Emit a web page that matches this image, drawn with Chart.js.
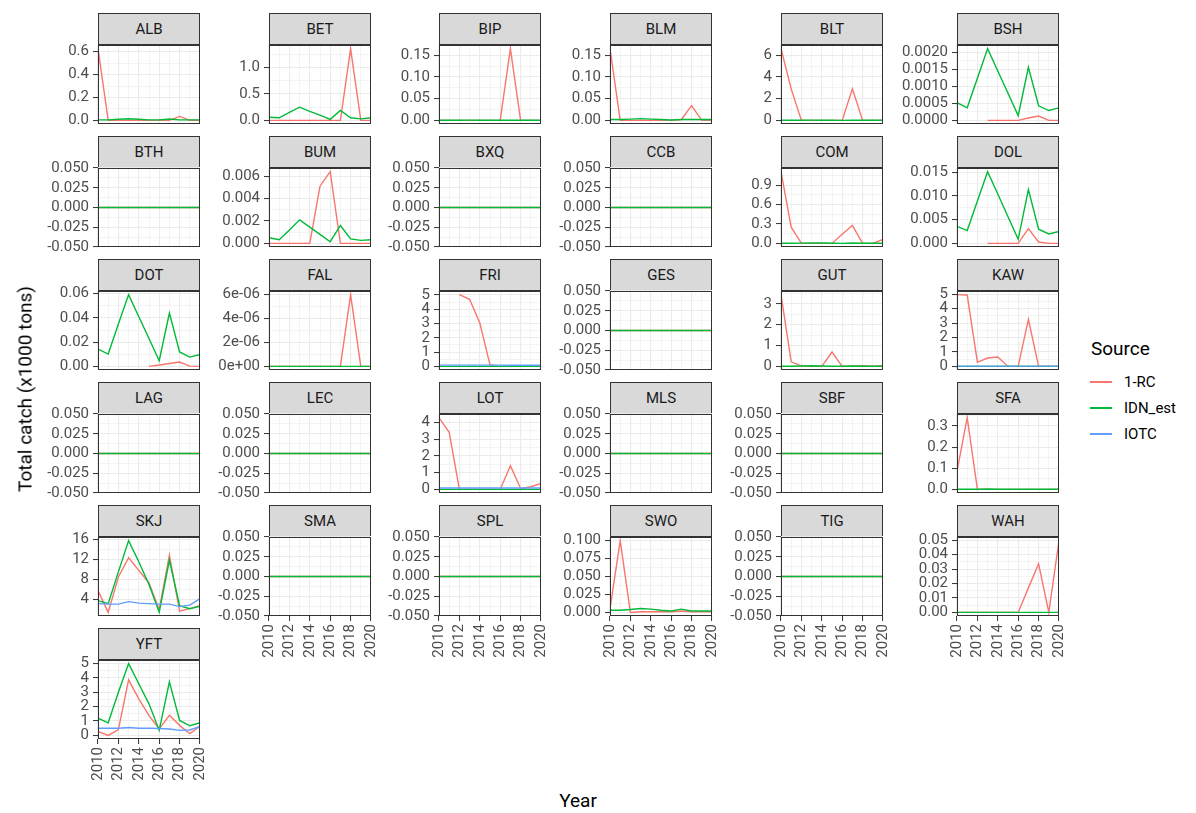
<!DOCTYPE html>
<html>
<head>
<meta charset="utf-8">
<title>Total catch by species</title>
<script src="https://cdn.jsdelivr.net/npm/chart.js@4.4.1/dist/chart.umd.min.js"></script>
<style>
  body { margin: 0; background: #ffffff; }
  #fig { position: relative; width: 1196px; height: 813px; overflow: hidden;
         font-family: Roboto, "DejaVu Sans", sans-serif; background: #ffffff; }
  .strip { position: absolute; box-sizing: border-box; height: 32px; background: #D9D9D9;
           border: 1px solid #333333; color: #1A1A1A; font-size: 15px; line-height: 30px;
           text-align: center; }
  canvas { position: absolute; }
  .title { position: absolute; color: #000; font-size: 19px; white-space: nowrap; }
  .legend-title { position: absolute; left: 1091px; top: 337px; font-size: 19px; color: #000; }
  .key { position: absolute; left: 1090px; width: 22px; height: 1.4px; }
  .key-label { position: absolute; left: 1124px; font-size: 15px; color: #000; line-height: 18px; }
</style>
</head>
<body>
<div id="fig"></div>
<script>
// Years on the x axis
const years = [2010, 2011, 2012, 2013, 2014, 2015, 2016, 2017, 2018, 2019, 2020];

// Species codes, one facet each
const species = ['ALB','BET','BIP','BLM','BLT','BSH','BTH','BUM','BXQ','CCB','COM','DOL',
                 'DOT','FAL','FRI','GES','GUT','KAW','LAG','LEC','LOT','MLS','SBF','SFA',
                 'SKJ','SMA','SPL','SWO','TIG','WAH','YFT'];

const seriesNames  = ['1-RC', 'IDN_est', 'IOTC'];
const seriesColors = ['#F8766D', '#00BA38', '#619CFF'];

// 1-RC catch (x1000 tons), per species, 2010-2020
const rc = [
  [0.627, 0, 0, 0, 0, 0, 0, 0, 0.035, 0, 0],                        // ALB
  [0, 0, 0, 0, 0, 0, 0, 0, 1.357, 0, 0],                            // BET
  [0, 0, 0, 0, 0, 0, 0, 0.165, 0, 0, 0],                            // BIP
  [0.165, 0, 0, 0, 0, 0, 0, 0.002, 0.034, 0, 0],                    // BLM
  [6.6, 2.9, 0, 0, 0, 0, 0, 2.9, 0, 0, 0],                          // BLT
  [null, null, null, 0, 0, 0, 0, 0.00007, 0.00013, 0, 0],           // BSH
  [0, 0, 0, 0, 0, 0, 0, 0, 0, 0, 0],                                // BTH
  [0, 0, 0, 0, 0, 0.0051, 0.0064, 0, 0, 0, 0],                      // BUM
  [0, 0, 0, 0, 0, 0, 0, 0, 0, 0, 0],                                // BXQ
  [0, 0, 0, 0, 0, 0, 0, 0, 0, 0, 0],                                // CCB
  [1.11, 0.25, 0, 0, 0, 0, 0.14, 0.28, 0, 0, 0.06],                 // COM
  [null, null, null, 0, 0, 0, 0, 0.0031, 0.0003, 0, 0],             // DOL
  [null, null, null, null, null, 0, 0.0012, 0.0024, 0.0036, 0.0002, 0], // DOT
  [0, 0, 0, 0, 0, 0, 0, 0, 0.000006, 0, 0],                         // FAL
  [null, null, 5.03, 4.7, 3.05, 0.1, 0, 0, 0, 0, 0],                // FRI
  [0, 0, 0, 0, 0, 0, 0, 0, 0, 0, 0],                                // GES
  [3.44, 0.22, 0.03, 0, 0, 0.69, 0, 0.01, 0.03, 0.01, 0.04],        // GUT
  [4.98, 4.95, 0.28, 0.58, 0.65, 0, 0, 3.27, 0, 0, 0],              // KAW
  [0, 0, 0, 0, 0, 0, 0, 0, 0, 0, 0],                                // LAG
  [0, 0, 0, 0, 0, 0, 0, 0, 0, 0, 0],                                // LEC
  [4.3, 3.42, 0, 0, 0, 0, 0, 1.42, 0.05, 0.16, 0.36],               // LOT
  [0, 0, 0, 0, 0, 0, 0, 0, 0, 0, 0],                                // MLS
  [0, 0, 0, 0, 0, 0, 0, 0, 0, 0, 0],                                // SBF
  [0.085, 0.34, 0, 0, 0, 0, 0, 0, 0, 0, 0],                         // SFA
  [5.8, 1.46, 8.5, 12.3, 9.8, 7.3, 2.0, 12.8, 1.7, 2.2, 2.8],       // SKJ
  [0, 0, 0, 0, 0, 0, 0, 0, 0, 0, 0],                                // SMA
  [0, 0, 0, 0, 0, 0, 0, 0, 0, 0, 0],                                // SPL
  [0.005, 0.0997, 0, 0.001, 0.001, 0.001, 0.001, 0.002, 0.001, 0.001, 0.001], // SWO
  [0, 0, 0, 0, 0, 0, 0, 0, 0, 0, 0],                                // TIG
  [0, 0, 0, 0, 0, 0, 0, 0.017, 0.0337, 0, 0.0498],                  // WAH
  [0.28, 0, 0.4, 3.87, 2.55, 1.38, 0.46, 1.4, 0.7, 0.12, 0.64]      // YFT
];

// IDN_est catch (x1000 tons)
const idn = [
  [0.005, 0.005, 0.01, 0.015, 0.01, 0.005, 0.005, 0.012, 0.005, 0.005, 0.005],        // ALB
  [0.06, 0.05, 0.15, 0.25, 0.17, 0.1, 0.02, 0.19, 0.05, 0.03, 0.05],                   // BET
  [0.0003, 0.0003, 0.0005, 0.0007, 0.0005, 0.0003, 0.0002, 0.0005, 0.0003, 0.0003, 0.0003], // BIP
  [0.002, 0.002, 0.003, 0.004, 0.003, 0.002, 0.001, 0.002, 0.002, 0.002, 0.002],        // BLM
  [0.01, 0.01, 0.02, 0.03, 0.02, 0.01, 0.005, 0.02, 0.01, 0.01, 0.01],                  // BLT
  [0.00052, 0.00037, 0.00124, 0.00211, 0.00145, 0.0008, 0.00014, 0.00156, 0.00043, 0.00029, 0.00037], // BSH
  [0, 0, 0, 0, 0, 0, 0, 0, 0, 0, 0],                                                    // BTH
  [0.0005, 0.00033, 0.0012, 0.0021, 0.00145, 0.0008, 0.00015, 0.0016, 0.0004, 0.00027, 0.00033], // BUM
  [0, 0, 0, 0, 0, 0, 0, 0, 0, 0, 0],                                                    // BXQ
  [0, 0, 0, 0, 0, 0, 0, 0, 0, 0, 0],                                                    // CCB
  [0.003, 0.003, 0.005, 0.008, 0.006, 0.003, 0.001, 0.006, 0.003, 0.002, 0.003],        // COM
  [0.0036, 0.0027, 0.0089, 0.0151, 0.0104, 0.0056, 0.00085, 0.0113, 0.003, 0.002, 0.0025], // DOL
  [0.0143, 0.0102, 0.035, 0.0593, 0.041, 0.023, 0.0047, 0.0441, 0.0119, 0.0077, 0.0099],   // DOT
  [0, 0, 0, 0, 0, 0, 0, 0, 0, 0, 0],                                                    // FAL
  [0, 0, 0, 0, 0, 0, 0, 0, 0, 0, 0],                                                    // FRI
  [0, 0, 0, 0, 0, 0, 0, 0, 0, 0, 0],                                                    // GES
  [0.01, 0.01, 0.02, 0.03, 0.02, 0.01, 0.005, 0.02, 0.01, 0.01, 0.01],                  // GUT
  [0, 0, 0, 0, 0, 0, 0, 0, 0, 0, 0],                                                    // KAW
  [0, 0, 0, 0, 0, 0, 0, 0, 0, 0, 0],                                                    // LAG
  [0, 0, 0, 0, 0, 0, 0, 0, 0, 0, 0],                                                    // LEC
  [0, 0, 0, 0, 0, 0, 0, 0, 0, 0, 0],                                                    // LOT
  [0, 0, 0, 0, 0, 0, 0, 0, 0, 0, 0],                                                    // MLS
  [0, 0, 0, 0, 0, 0, 0, 0, 0, 0, 0],                                                    // SBF
  [0.001, 0.001, 0.001, 0.002, 0.001, 0.001, 0.001, 0.001, 0.001, 0.001, 0.001],        // SFA
  [3.8, 3.2, 9.5, 15.7, 11.5, 7.0, 1.5, 11.8, 2.8, 2.2, 2.7],                            // SKJ
  [0, 0, 0, 0, 0, 0, 0, 0, 0, 0, 0],                                                    // SMA
  [0, 0, 0, 0, 0, 0, 0, 0, 0, 0, 0],                                                    // SPL
  [0.003, 0.003, 0.004, 0.0055, 0.0045, 0.003, 0.002, 0.0045, 0.002, 0.002, 0.002],     // SWO
  [0, 0, 0, 0, 0, 0, 0, 0, 0, 0, 0],                                                    // TIG
  [0, 0, 0, 0, 0, 0, 0, 0, 0, 0, 0],                                                    // WAH
  [1.2, 0.88, 3.0, 5.0, 3.6, 2.2, 0.35, 3.73, 1.04, 0.67, 0.88]                          // YFT
];

// IOTC catch (x1000 tons); only reported for a few species
const iotcFRI = [0.09, 0.09, 0.09, 0.09, 0.09, 0.09, 0.09, 0.08, 0.08, 0.08, 0.08];
const iotcKAW = [0.02, 0.02, 0.02, 0.02, 0.02, 0.02, 0.02, 0.02, 0.02, 0.02, 0.02];
const iotcLOT = [0.08, 0.08, 0.08, 0.08, 0.08, 0.08, 0.08, 0.08, 0.08, 0.08, 0.08];
const iotcSKJ = [3.2, 3.1, 3.1, 3.6, 3.3, 3.2, 3.1, 3.1, 2.6, 2.9, 4.2];
const iotcYFT = [0.5, 0.5, 0.5, 0.55, 0.5, 0.5, 0.48, 0.45, 0.35, 0.38, 0.62];
const iotc = { FRI: iotcFRI, KAW: iotcKAW, LOT: iotcLOT, SKJ: iotcSKJ, YFT: iotcYFT };

// y-axis tick labels for each facet
const zeroTicks = ['-0.050', '-0.025', '0.000', '0.025', '0.050'];
const yTickLabels = [
  ['0.0', '0.2', '0.4', '0.6'],                              // ALB
  ['0.0', '0.5', '1.0'],                                     // BET
  ['0.00', '0.05', '0.10', '0.15'],                          // BIP
  ['0.00', '0.05', '0.10', '0.15'],                          // BLM
  ['0', '2', '4', '6'],                                      // BLT
  ['0.0000', '0.0005', '0.0010', '0.0015', '0.0020'],        // BSH
  zeroTicks,                                                 // BTH
  ['0.000', '0.002', '0.004', '0.006'],                      // BUM
  zeroTicks,                                                 // BXQ
  zeroTicks,                                                 // CCB
  ['0.0', '0.3', '0.6', '0.9'],                              // COM
  ['0.000', '0.005', '0.010', '0.015'],                      // DOL
  ['0.00', '0.02', '0.04', '0.06'],                          // DOT
  ['0e+00', '2e-06', '4e-06', '6e-06'],                      // FAL
  ['0', '1', '2', '3', '4', '5'],                            // FRI
  zeroTicks,                                                 // GES
  ['0', '1', '2', '3'],                                      // GUT
  ['0', '1', '2', '3', '4', '5'],                            // KAW
  zeroTicks,                                                 // LAG
  zeroTicks,                                                 // LEC
  ['0', '1', '2', '3', '4'],                                 // LOT
  zeroTicks,                                                 // MLS
  zeroTicks,                                                 // SBF
  ['0.0', '0.1', '0.2', '0.3'],                              // SFA
  ['4', '8', '12', '16'],                                    // SKJ
  zeroTicks,                                                 // SMA
  zeroTicks,                                                 // SPL
  ['0.000', '0.025', '0.050', '0.075', '0.100'],             // SWO
  zeroTicks,                                                 // TIG
  ['0.00', '0.01', '0.02', '0.03', '0.04', '0.05'],          // WAH
  ['0', '1', '2', '3', '4', '5']                             // YFT
];
const xTickLabels = ['2010', '2012', '2014', '2016', '2018', '2020'];

// Facet grid geometry
const NCOL = 6;
const colLeft = [98, 269, 439, 610, 781, 957];
const PANEL_W = 102, PANEL_H = 79, STRIP_H = 32, ROW_PITCH = 123, FIRST_TOP = 13;
// generous margins so the scales' own label padding never moves the plot area
const AXIS_W = 62, PAD_T = 16, PAD_R = 28, PAD_B = 16, XAXIS_H = 62;

const TICK_FONT = { family: 'Roboto', size: 15 };
const TICK_COLOR = '#4D4D4D';
const GRID_COLOR = '#EBEBEB';
const DARK = '#333333';

const fig = document.getElementById('fig');

// Outline of each panel, drawn over the lines
const panelBorder = {
  id: 'panelBorder',
  afterDraw(chart) {
    const a = chart.chartArea, ctx = chart.ctx;
    ctx.save();
    ctx.strokeStyle = DARK;
    ctx.lineWidth = 1;
    ctx.strokeRect(a.left + 0.5, a.top + 0.5, a.right - a.left - 1, a.bottom - a.top - 1);
    ctx.restore();
  }
};

function near(a, b) { return Math.abs(a - b) <= 1e-9 * Math.max(1, Math.abs(a), Math.abs(b)) + 1e-15; }

function yLimits(i) {
  const vals = [].concat(rc[i], idn[i], iotc[species[i]] || []).filter(v => v !== null);
  const lo = Math.min(...vals), hi = Math.max(...vals);
  if (hi - lo === 0) return [lo - 0.05, hi + 0.05];
  const pad = (hi - lo) * 0.05;
  return [lo - pad, hi + pad];
}

function minorBreaks(major, lo, hi) {
  if (major.length < 2) return [];
  const step = major[1] - major[0];
  const out = [];
  const ext = [major[0] - step].concat(major, [major[major.length - 1] + step]);
  for (let k = 0; k < ext.length - 1; k++) {
    const m = (ext[k] + ext[k + 1]) / 2;
    if (m >= lo - 1e-12 && m <= hi + 1e-12) out.push(m);
  }
  return out;
}

species.forEach((code, i) => {
  const col = i % NCOL, row = Math.floor(i / NCOL);
  const isBottom = i + NCOL >= species.length;
  const stripTop = FIRST_TOP + ROW_PITCH * row;
  const plotTop = stripTop + STRIP_H;
  const left = colLeft[col];

  // strip label
  const strip = document.createElement('div');
  strip.className = 'strip';
  strip.style.left = left + 'px';
  strip.style.top = stripTop + 'px';
  strip.style.width = PANEL_W + 'px';
  strip.textContent = code;
  fig.appendChild(strip);

  // canvas around the panel, with room for the axes
  const cv = document.createElement('canvas');
  const cw = AXIS_W + PANEL_W + PAD_R;
  const ch = PAD_T + PANEL_H + (isBottom ? XAXIS_H : PAD_B);
  cv.width = cw; cv.height = ch;
  cv.style.width = cw + 'px'; cv.style.height = ch + 'px';
  cv.style.left = (left - AXIS_W) + 'px';
  cv.style.top = (plotTop - PAD_T) + 'px';
  fig.appendChild(cv);

  const [lo, hi] = yLimits(i);
  const labels = yTickLabels[i];
  const major = labels.map(Number).filter(v => v >= lo - 1e-12 && v <= hi + 1e-12);
  const minor = minorBreaks(labels.map(Number), lo, hi);
  const yTicks = major.concat(minor).sort((a, b) => a - b);
  const isMajorY = v => major.some(m => near(m, v));
  const yLabel = v => { const k = labels.findIndex(s => near(Number(s), v)); return k >= 0 ? labels[k] : ''; };

  const xMajor = xTickLabels.map(Number);
  const isMajorX = v => xMajor.includes(v);

  const toPts = arr => years.map((yr, k) => ({ x: yr, y: arr[k] }));
  const seriesData = [rc[i], idn[i], iotc[code] || null];
  const datasets = [];
  // drawn in reverse order, so IOTC ends up on top
  [2, 1, 0].forEach(s => {
    if (!seriesData[s]) return;
    datasets.push({
      label: seriesNames[s],
      data: toPts(seriesData[s]),
      borderColor: seriesColors[s],
      backgroundColor: seriesColors[s],
      borderWidth: 1.4,
      pointRadius: 0,
      tension: 0,
      spanGaps: false
    });
  });

  new Chart(cv, {
    type: 'line',
    data: { datasets },
    plugins: [panelBorder],
    options: {
      responsive: false,
      animation: false,
      events: [],
      layout: { autoPadding: false, padding: { left: 0, top: PAD_T, right: PAD_R, bottom: isBottom ? 0 : PAD_B } },
      plugins: { legend: { display: false }, tooltip: { enabled: false } },
      scales: {
        x: {
          type: 'linear', min: years[0], max: years[years.length - 1],
          afterFit: s => { s.height = isBottom ? XAXIS_H : 0; },
          afterBuildTicks: s => { s.ticks = years.map(v => ({ value: v })); },
          border: { display: false },
          grid: {
            color: GRID_COLOR,
            lineWidth: c => (c.tick && isMajorX(c.tick.value)) ? 1.1 : 0.55,
            drawTicks: isBottom,
            tickLength: 5,
            tickWidth: 1,
            tickColor: c => (c.tick && isMajorX(c.tick.value)) ? DARK : 'rgba(0,0,0,0)'
          },
          ticks: {
            display: isBottom, autoSkip: false, minRotation: 90, maxRotation: 90,
            padding: 3, color: TICK_COLOR, font: TICK_FONT,
            callback: v => isMajorX(v) ? xTickLabels[xMajor.indexOf(v)] : ''
          }
        },
        y: {
          type: 'linear', min: lo, max: hi,
          afterFit: s => { s.width = AXIS_W; },
          afterBuildTicks: s => { s.ticks = yTicks.map(v => ({ value: v })); },
          border: { display: false },
          grid: {
            color: GRID_COLOR,
            lineWidth: c => (c.tick && isMajorY(c.tick.value)) ? 1.1 : 0.55,
            drawTicks: true,
            tickLength: 5,
            tickWidth: 1,
            tickColor: c => (c.tick && isMajorY(c.tick.value)) ? DARK : 'rgba(0,0,0,0)'
          },
          ticks: {
            autoSkip: false, padding: 4, color: TICK_COLOR, font: TICK_FONT,
            callback: v => yLabel(v)
          }
        }
      }
    }
  });
});

// axis titles
const yTitle = document.createElement('div');
yTitle.className = 'title';
yTitle.textContent = 'Total catch (x1000 tons)';
yTitle.style.left = '25px';
yTitle.style.top = '389px';
yTitle.style.transform = 'translate(-50%, -50%) rotate(-90deg)';
fig.appendChild(yTitle);

const xTitle = document.createElement('div');
xTitle.className = 'title';
xTitle.textContent = 'Year';
xTitle.style.left = '578px';
xTitle.style.top = '800px';
xTitle.style.transform = 'translate(-50%, -50%)';
fig.appendChild(xTitle);

// legend
const lt = document.createElement('div');
lt.className = 'legend-title';
lt.textContent = 'Source';
fig.appendChild(lt);
const keyY = [382, 408, 434];
seriesNames.forEach((name, s) => {
  const k = document.createElement('div');
  k.className = 'key';
  k.style.top = (keyY[s] - 0.7) + 'px';
  k.style.background = seriesColors[s];
  fig.appendChild(k);
  const t = document.createElement('div');
  t.className = 'key-label';
  t.style.top = (keyY[s] - 9) + 'px';
  t.textContent = name;
  fig.appendChild(t);
});
</script>
</body>
</html>
